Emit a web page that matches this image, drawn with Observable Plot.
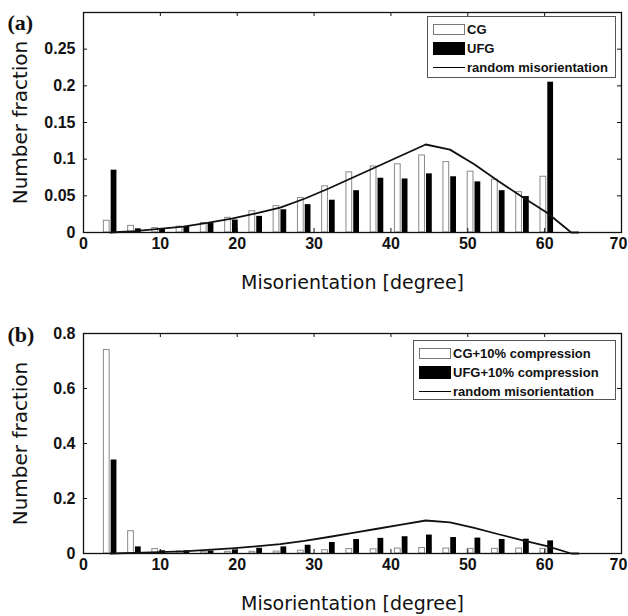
<!DOCTYPE html>
<html>
<head>
<meta charset="utf-8">
<script src="https://cdn.jsdelivr.net/npm/d3@7"></script>
<script src="https://cdn.jsdelivr.net/npm/@observablehq/plot@0.6"></script>
<style>
  body { margin: 0; background: #fff; }
  #wrap { position: relative; width: 628px; height: 616px; background: #fff; overflow: hidden; }
  .panel { position: absolute; left: 0; }
  .legend { position: absolute; box-sizing: border-box; border: 1px solid #555; background: #fff;
            font-family: "Liberation Sans", Arial, sans-serif; font-weight: bold; font-size: 13px; color: #111;
            padding-top: 3px; }
  .row { display: flex; align-items: center; height: 19px; padding-left: 5px; }
  .sw { width: 32px; box-sizing: border-box; margin-right: 2px; flex: none; }
  .sw.white { height: 11px; border: 1px solid #777; background: #fff; }
  .sw.black { height: 13px; background: #000; }
  .sw.line { height: 1.5px; background: #000; }
</style>
</head>
<body>
<div id="wrap">
  <div id="pa" class="panel" style="top:0"></div>
  <div id="pb" class="panel" style="top:300px"></div>
  <div class="legend" style="left:427px;top:16px;width:189px;height:62px">
    <div class="row"><div class="sw white"></div><span>CG</span></div>
    <div class="row"><div class="sw black"></div><span>UFG</span></div>
    <div class="row"><div class="sw line"></div><span>random misorientation</span></div>
  </div>
  <div class="legend" style="left:413px;top:340px;width:203px;height:60px">
    <div class="row"><div class="sw white"></div><span>CG+10% compression</span></div>
    <div class="row"><div class="sw black"></div><span>UFG+10% compression</span></div>
    <div class="row"><div class="sw line"></div><span>random misorientation</span></div>
  </div>
</div>
<script>
// Misorientation bin centres [degree]
const binCenters = [3.5, 6.66, 9.81, 12.97, 16.12, 19.28, 22.44, 25.59, 28.75, 31.9, 35.06, 38.22, 41.37, 44.53, 47.68, 50.84, 54.0, 57.15, 60.31];

// Panel (a)
const cgA  = [0.016, 0.009, 0.006, 0.008, 0.013, 0.020, 0.029, 0.036, 0.047, 0.063, 0.082, 0.090, 0.093, 0.105, 0.096, 0.083, 0.072, 0.055, 0.076];
const ufgA = [0.085, 0.005, 0.005, 0.008, 0.013, 0.017, 0.022, 0.031, 0.038, 0.044, 0.057, 0.074, 0.073, 0.080, 0.076, 0.069, 0.057, 0.049, 0.205];

// Panel (b)
const cgB  = [0.74, 0.081, 0.016, 0.008, 0.006, 0.006, 0.006, 0.007, 0.010, 0.012, 0.016, 0.015, 0.018, 0.020, 0.018, 0.017, 0.017, 0.018, 0.017];
const ufgB = [0.34, 0.024, 0.010, 0.010, 0.009, 0.013, 0.019, 0.024, 0.030, 0.040, 0.051, 0.055, 0.061, 0.067, 0.058, 0.056, 0.051, 0.052, 0.046];

// Random (Mackenzie) misorientation curve
const randomX = [3.5, 6.66, 9.81, 12.97, 16.12, 19.28, 22.44, 25.59, 28.75, 31.9, 35.06, 38.22, 41.37, 44.53, 47.68, 50.84, 54.0, 57.15, 60.31, 63.46, 64.4];
const randomY = [0.0, 0.002, 0.005, 0.008, 0.013, 0.019, 0.026, 0.034, 0.046, 0.060, 0.075, 0.090, 0.105, 0.120, 0.113, 0.093, 0.070, 0.048, 0.027, 0.0, 0.0];

// Tick labels
const xTicks = [0, 10, 20, 30, 40, 50, 60, 70];
const yTicksA = [0, 0.05, 0.1, 0.15, 0.2, 0.25];
const yTicksB = [0, 0.2, 0.4, 0.6, 0.8];

const xLabel = "Misorientation [degree]";
const yLabel = "Number fraction";

function panel({cg, ufg, yMax, yTicks, height, marginTop, marginBottom, tag, tagDy}) {
  const width = 628, marginLeft = 83, marginRight = 7;
  const ph = height - marginTop - marginBottom;
  const pw = width - marginLeft - marginRight;
  const bars = binCenters.map((c, i) => ({c, cg: cg[i], ufg: ufg[i]}));
  const curve = randomX.map((x, i) => ({x, y: randomY[i]}));
  const tickFont = {fontSize: 16, fontWeight: "bold", fontFamily: "'Liberation Sans', Arial, sans-serif", fill: "#111"};
  const lastX = xTicks[xTicks.length - 1];
  return Plot.plot({
    width, height, marginLeft, marginRight, marginTop, marginBottom,
    x: {domain: [0, 70]},
    y: {domain: [0, yMax]},
    style: {background: "white", color: "#111", overflow: "visible"},
    marks: [
      Plot.rect(bars, {x1: d => d.c - 0.85, x2: d => d.c - 0.1, y1: 0, y2: "cg", fill: "white", stroke: "#8a8a8a", strokeWidth: 1}),
      Plot.rect(bars, {x1: d => d.c + 0.1, x2: d => d.c + 0.85, y1: 0, y2: "ufg", fill: "black"}),
      Plot.line(curve, {x: "x", y: "y", stroke: "#111", strokeWidth: 1.8}),
      Plot.frame({stroke: "#111", strokeWidth: 1.3}),
      Plot.tickX(xTicks, {x: d => d, insetBottom: ph - 4, stroke: "#111"}),
      Plot.tickX(xTicks, {x: d => d, insetTop: ph - 4, stroke: "#111"}),
      Plot.tickY(yTicks, {y: d => d, insetRight: pw - 4, stroke: "#111"}),
      Plot.tickY(yTicks, {y: d => d, insetLeft: pw - 4, stroke: "#111"}),
      Plot.axisX(xTicks.filter(t => t !== lastX), {tickSize: 0, tickPadding: 5, label: null, ...tickFont}),
      Plot.axisX([lastX], {tickSize: 0, tickPadding: 5, label: null, dx: -3, ...tickFont}),
      Plot.axisY(yTicks, {tickSize: 0, tickPadding: 8, label: null, tickFormat: d => String(+d.toFixed(2)), ...tickFont}),
      Plot.text([xLabel], {frameAnchor: "bottom", dy: 50, lineAnchor: "middle", textAnchor: "middle",
        fontSize: 19, fontFamily: "'DejaVu Sans', sans-serif", fill: "#111"}),
      Plot.text([yLabel], {frameAnchor: "left", dx: -63, rotate: -90, lineAnchor: "middle", textAnchor: "middle",
        fontSize: 20, fontFamily: "'DejaVu Sans', sans-serif", fill: "#111"}),
      Plot.text([tag], {frameAnchor: "top-left", dx: -76, dy: tagDy, lineAnchor: "middle", textAnchor: "start",
        fontSize: 22, fontWeight: "bold", fontFamily: "'Liberation Serif', 'Times New Roman', serif", fill: "#111"})
    ]
  });
}

document.getElementById("pa").append(panel({cg: cgA, ufg: ufgA, yMax: 0.3, yTicks: yTicksA, height: 300, marginTop: 12, marginBottom: 68, tag: "(a)", tagDy: 10}));
document.getElementById("pb").append(panel({cg: cgB, ufg: ufgB, yMax: 0.8, yTicks: yTicksB, height: 316, marginTop: 33, marginBottom: 63, tag: "(b)", tagDy: 1}));
</script>
</body>
</html>
